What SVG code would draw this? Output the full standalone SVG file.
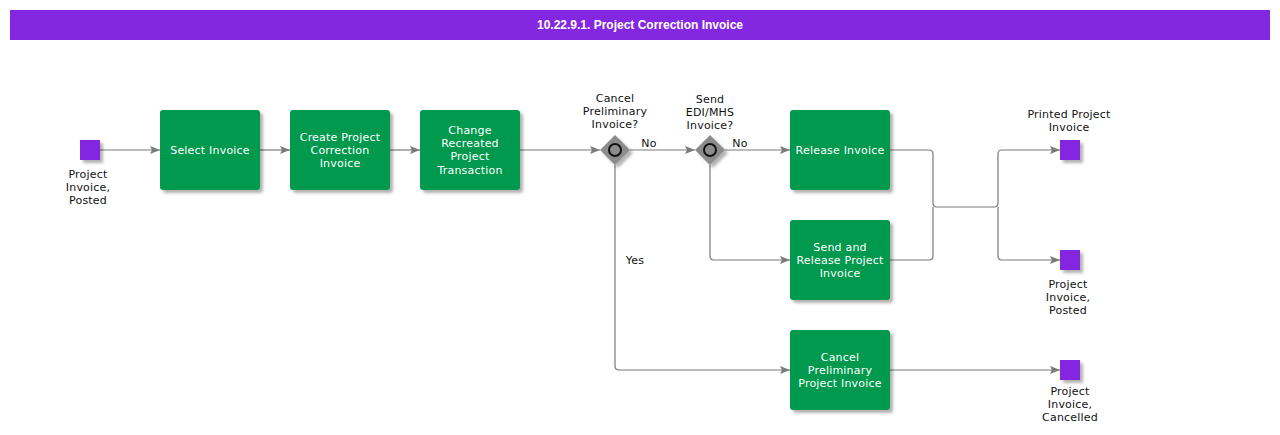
<svg xmlns="http://www.w3.org/2000/svg" width="1280" height="435" viewBox="0 0 1280 435">
<style>
.task{fill:#01994d;filter:url(#sh)}
.ev{fill:#8427e0;filter:url(#sh)}
.gw{fill:#8c8c8c;filter:url(#sh)}
.gc{fill:#8c8c8c;stroke:#111;stroke-width:2}
.tt{font-family:"DejaVu Sans",Verdana,sans-serif;font-size:11px;letter-spacing:0.2px;fill:#fff;text-anchor:middle}
.lb{font-family:"DejaVu Sans",Verdana,sans-serif;font-size:11px;letter-spacing:0.2px;fill:#111;text-anchor:middle}
.cn{fill:none;stroke:#7a7a7a;stroke-width:1.2;stroke-linejoin:round}
.title{font-family:"Liberation Sans Narrow","Liberation Sans",Arial,sans-serif;font-size:12px;font-weight:bold;fill:#fff;text-anchor:middle}
</style>
<defs>
<filter id="sh" x="-20%" y="-20%" width="150%" height="150%">
<feDropShadow dx="3" dy="3" stdDeviation="1.5" flood-color="#000" flood-opacity="0.3"/>
</filter>
<marker id="ar" viewBox="0 0 10 8" refX="10" refY="4" markerWidth="10" markerHeight="8" markerUnits="userSpaceOnUse" orient="auto">
<path d="M0,0 L10,4 L0,8 L2,4 Z" fill="#7a7a7a"/>
</marker>
</defs>
<rect x="0" y="0" width="1280" height="435" fill="#fff"/>
<g id="header">
<rect x="10" y="10" width="1260" height="30" fill="#8427e0"/>
<text class="title" x="640" y="29">10.22.9.1. Project Correction Invoice</text>
</g>
<g id="connectors">
<path class="cn" d="M100,150 H160" marker-end="url(#ar)"/>
<path class="cn" d="M260,150 H290" marker-end="url(#ar)"/>
<path class="cn" d="M390,150 H420" marker-end="url(#ar)"/>
<path class="cn" d="M520,150 H600" marker-end="url(#ar)"/>
<path class="cn" d="M630,150 H695" marker-end="url(#ar)"/>
<path class="cn" d="M725,150 H790" marker-end="url(#ar)"/>
<path class="cn" d="M710,165 V256 Q710,260 714,260 H790" marker-end="url(#ar)"/>
<path class="cn" d="M615,165 V366 Q615,370 619,370 H790" marker-end="url(#ar)"/>
<path class="cn" d="M890,150 H929 Q933,150 933,154 V203 Q933,207 937,207 H994 Q998,207 998,203 V154 Q998,150 1002,150 H1060" marker-end="url(#ar)"/>
<path class="cn" d="M890,260 H929 Q933,260 933,256 V207"/>
<path class="cn" d="M998,207 V256 Q998,260 1002,260 H1060" marker-end="url(#ar)"/>
<path class="cn" d="M890,370 H1060" marker-end="url(#ar)"/>
<text class="lb" x="649" y="147">No</text>
<text class="lb" x="740" y="147">No</text>
<text class="lb" x="635" y="264">Yes</text>
</g>
<g id="start">
<rect class="ev" x="80" y="140" width="20" height="20"/>
<text class="lb" x="88" y="178">Project</text>
<text class="lb" x="88" y="191">Invoice,</text>
<text class="lb" x="88" y="204">Posted</text>
</g>
<g id="selectInvoice">
<rect class="task" x="160" y="110" width="100" height="80" rx="3"/>
<text class="tt" x="210" y="154">Select Invoice</text>
</g>
<g id="createCorrection">
<rect class="task" x="290" y="110" width="100" height="80" rx="3"/>
<text class="tt" x="340" y="141">Create Project</text>
<text class="tt" x="340" y="154">Correction</text>
<text class="tt" x="340" y="167">Invoice</text>
</g>
<g id="changeRecreated">
<rect class="task" x="420" y="110" width="100" height="80" rx="3"/>
<text class="tt" x="470" y="134">Change</text>
<text class="tt" x="470" y="147">Recreated</text>
<text class="tt" x="470" y="160">Project</text>
<text class="tt" x="470" y="174">Transaction</text>
</g>
<g id="gwCancel">
<path class="gw" d="M615,135 L630,150 L615,165 L600,150 Z"/>
<circle class="gc" cx="615" cy="150" r="6"/>
<text class="lb" x="615" y="102">Cancel</text>
<text class="lb" x="615" y="115">Preliminary</text>
<text class="lb" x="615" y="128">Invoice?</text>
</g>
<g id="gwSend">
<path class="gw" d="M710,135 L725,150 L710,165 L695,150 Z"/>
<circle class="gc" cx="710" cy="150" r="6"/>
<text class="lb" x="710" y="103">Send</text>
<text class="lb" x="710" y="116">EDI/MHS</text>
<text class="lb" x="710" y="129">Invoice?</text>
</g>
<g id="releaseInvoice">
<rect class="task" x="790" y="110" width="100" height="80" rx="3"/>
<text class="tt" x="840" y="154">Release Invoice</text>
</g>
<g id="sendRelease">
<rect class="task" x="790" y="220" width="100" height="80" rx="3"/>
<text class="tt" x="840" y="251">Send and</text>
<text class="tt" x="840" y="264">Release Project</text>
<text class="tt" x="840" y="277">Invoice</text>
</g>
<g id="cancelPreliminary">
<rect class="task" x="790" y="330" width="100" height="80" rx="3"/>
<text class="tt" x="840" y="361">Cancel</text>
<text class="tt" x="840" y="374">Preliminary</text>
<text class="tt" x="840" y="387">Project Invoice</text>
</g>
<g id="endPrinted">
<rect class="ev" x="1060" y="140" width="20" height="20"/>
<text class="lb" x="1069" y="118">Printed Project</text>
<text class="lb" x="1069" y="131">Invoice</text>
</g>
<g id="endPosted">
<rect class="ev" x="1060" y="250" width="20" height="20"/>
<text class="lb" x="1068" y="288">Project</text>
<text class="lb" x="1068" y="301">Invoice,</text>
<text class="lb" x="1068" y="314">Posted</text>
</g>
<g id="endCancelled">
<rect class="ev" x="1060" y="360" width="20" height="20"/>
<text class="lb" x="1070" y="395">Project</text>
<text class="lb" x="1070" y="408">Invoice,</text>
<text class="lb" x="1070" y="421">Cancelled</text>
</g>
</svg>
